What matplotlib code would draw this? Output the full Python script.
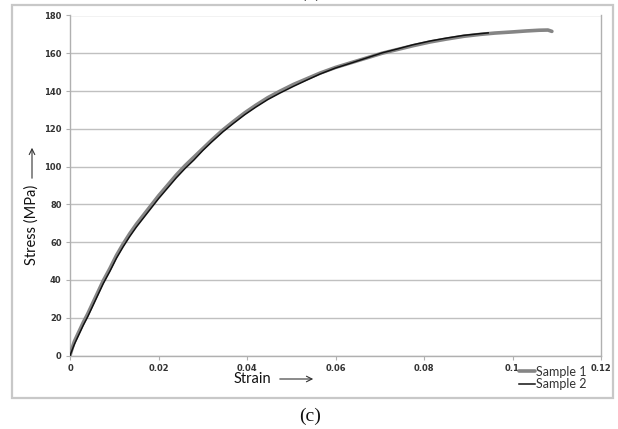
import matplotlib
matplotlib.use("Agg")
import matplotlib.pyplot as plt
from matplotlib.patches import Rectangle

# ---- data ----
s1_strain = [0, 0.0005, 0.001, 0.0015, 0.002, 0.003, 0.004, 0.005, 0.006, 0.0075,
             0.009, 0.0105, 0.012, 0.0135, 0.015, 0.0165, 0.018, 0.020, 0.022, 0.024,
             0.026, 0.028, 0.030, 0.032, 0.0346, 0.037, 0.0395, 0.042, 0.0447, 0.0475,
             0.0505, 0.0535, 0.0565, 0.060, 0.0635, 0.067, 0.0705, 0.074, 0.0775, 0.0814,
             0.085, 0.089, 0.0927, 0.096, 0.100, 0.103, 0.106, 0.108, 0.1089]
s1_stress = [0, 4, 7.5, 10, 12.5, 17.5, 22, 27, 32, 39.5,
             46, 53, 59, 64.5, 69.5, 74, 78.5, 84.5, 90, 95.5,
             100.5, 105, 109.5, 114, 119.5, 124, 128.5, 132.5, 136.5, 140,
             143.5, 146.5, 149.5, 152.5, 155, 157.5, 160, 162, 164, 166,
             167.5, 169, 170, 170.7, 171.3, 171.8, 172.2, 172.3, 171.6]

s2_strain = [0, 0.0005, 0.001, 0.0015, 0.002, 0.003, 0.004, 0.005, 0.006, 0.0075,
             0.009, 0.0105, 0.012, 0.0135, 0.015, 0.0165, 0.018, 0.020, 0.022, 0.024,
             0.026, 0.028, 0.030, 0.032, 0.0346, 0.037, 0.0395, 0.042, 0.0447, 0.0475,
             0.0505, 0.0535, 0.0565, 0.060, 0.0635, 0.067, 0.0705, 0.074, 0.0775, 0.0814,
             0.085, 0.089, 0.0927, 0.0945]
s2_stress = [0, 3, 6, 8.5, 11, 16, 20.5, 25.5, 30.5, 38,
             44.5, 51.5, 57.5, 63, 68, 72.5, 77, 83, 88.5, 94,
             99, 103.5, 108.5, 113, 118.5, 123, 127.5, 131.5, 135.5, 139,
             142.5, 145.8, 149, 152.2, 154.8, 157.5, 160.2, 162.3, 164.5, 166.5,
             168, 169.5, 170.4, 170.8]

x_ticks = [0, 0.02, 0.04, 0.06, 0.08, 0.1, 0.12]
x_tick_labels = ["0", "0.02", "0.04", "0.06", "0.08", "0.1", "0.12"]
y_ticks = [0, 20, 40, 60, 80, 100, 120, 140, 160, 180]
series_names = ["Sample 1", "Sample 2"]

W, H = 618, 429
fig = plt.figure(figsize=(W / 100, H / 100), dpi=100)
fig.patch.set_facecolor("white")

# outer chart frame
fig.patches.append(Rectangle((12 / W, 1 - 398 / H), (613 - 12) / W, (398 - 5) / H,
                             transform=fig.transFigure, fill=False,
                             edgecolor="#c8c8c8", linewidth=1.6, zorder=0))

ax = fig.add_axes([70 / W, 1 - 355.5 / H, (601 - 70) / W, (355.5 - 15.5) / H])
ax.set_xlim(0, 0.12)
ax.set_ylim(0, 180)
ax.set_xticks(x_ticks)
ax.set_xticklabels(x_tick_labels)
ax.set_yticks(y_ticks)
ax.yaxis.grid(True, color="#c0c0c0", linewidth=1.0)
ax.set_axisbelow(True)
for side in ["left", "bottom", "right"]:
    ax.spines[side].set_color("#b0b0b0")
    ax.spines[side].set_linewidth(1.0)
ax.spines["top"].set_visible(False)
ax.tick_params(axis="both", direction="out", length=3, width=0.8, color="#b0b0b0",
               labelsize=6, labelcolor="#333333", pad=3)
for lab in ax.get_xticklabels() + ax.get_yticklabels():
    lab.set_fontweight("bold")

ax.plot(s1_strain, s1_stress, color="#858585", linewidth=2.6, solid_capstyle="round",
        solid_joinstyle="round", label=series_names[0], zorder=3)
ax.plot(s2_strain, s2_stress, color="#111111", linewidth=1.1, solid_joinstyle="round",
        label=series_names[1], zorder=4)

# axis labels with arrows
fig.text(32 / W, 1 - 225 / H, "Stress (MPa)", rotation=90, ha="center", va="center",
         fontsize=10.5, family="Lato", color="#111111")
ax.annotate("", xy=(32 / W, 1 - 145 / H), xytext=(32 / W, 1 - 181 / H),
            xycoords="figure fraction", textcoords="figure fraction",
            arrowprops=dict(arrowstyle="->", color="#333333", lw=0.8))

fig.text(252 / W, 1 - 379 / H, "Strain", ha="center", va="center",
         fontsize=10.5, family="Lato", color="#111111")
ax.annotate("", xy=(316 / W, 1 - 379 / H), xytext=(277 / W, 1 - 379 / H),
            xycoords="figure fraction", textcoords="figure fraction",
            arrowprops=dict(arrowstyle="->", color="#333333", lw=0.8))

# legend
leg = fig.legend(loc="center left", bbox_to_anchor=(519 / W, 1 - 378 / H), frameon=False,
                 prop={"family": "Lato", "size": 9}, handlelength=1.3, handletextpad=0.1,
                 labelspacing=0.05, borderpad=0, borderaxespad=0)
for t in leg.get_texts():
    t.set_color("#333333")

# caption
fig.text(310 / W, 1 - 416 / H, "(c)", ha="center", va="center", fontsize=14,
         family="Liberation Serif", color="#111111")
fig.text(311 / W, 1 + 8 / H, "(b)", ha="center", va="center", fontsize=14,
         family="Liberation Serif", color="#111111")

fig.savefig("out.png", dpi=100)
